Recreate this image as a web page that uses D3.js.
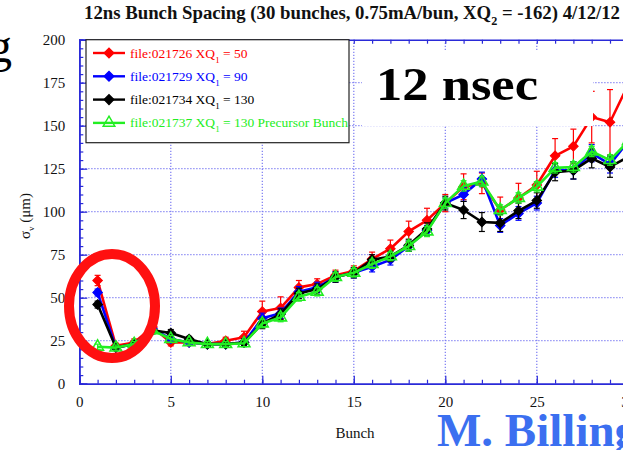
<!DOCTYPE html>
<html>
<head>
<meta charset="utf-8">
<script src="https://cdn.jsdelivr.net/npm/d3@7"></script>
<style>
  body { margin: 0; background: #fff; }
  svg { display: block; font-family: "Liberation Serif", "Times New Roman", serif; }
</style>
</head>
<body>
<svg id="chart" width="623" height="450"></svg>
<script>
// bunch numbers
var bunch = [1, 2, 3, 4, 5, 6, 7, 8, 9, 10, 11, 12, 13, 14, 15,
             16, 17, 18, 19, 20, 21, 22, 23, 24, 25, 26, 27, 28, 29, 30];

// sigma_v (um) per bunch
var red   = [60, 22, 24, 33, 24, 24, 23, 25, 27, 42, 44, 56, 58, 63, 65.5,
             72.5, 78.5, 88.5, 95, 105, 114.5, 116.5, 101, 108, 115.5, 132.5, 138, 155, 152, 174];
var blue  = [53, 21, 23, 32, 26, 24, 23, 23, 24, 38, 41, 53.5, 56, 62, 64.5,
             68, 72, 80, 89, 105, 110, 119, 92, 99, 105, 124, 124, 134, 127.5, 141];
var black = [46, 21, 23, 31, 29.5, 26, 23, 23, 24, 35, 40.5, 52.5, 55, 62, 64.5,
             72, 74, 80.5, 90, 105, 101, 94, 93.5, 100.5, 106.5, 123, 124, 131, 126, 132];
var green = [21.5, 21, 23, 31, 26, 24, 23, 23, 23.5, 35, 38.5, 50.5, 53.5, 62, 64.5,
             69.5, 74, 80, 88.5, 105, 115, 117.5, 101, 108, 114.5, 125.5, 126, 135, 130, 141];

// error bar half-lengths
var redErr   = [3, 1.5, 2, 2, 2, 1.5, 1.5, 2, 3.5, 6, 6.5, 4, 3, 3, 3,
                4, 5, 6, 7, 5, 7.5, 6, 7.5, 8.5, 8, 10, 10, 15, 19, 12];
var blueErr  = [2, 1.5, 1.5, 2, 2, 1.5, 1.5, 1.5, 2, 3, 3, 3, 3, 3, 3,
                3, 3, 3, 3, 3, 4, 4, 4, 4, 4, 4, 5, 5, 5, 5];
var blackErr = [2, 1.5, 1.5, 2, 2, 1.5, 1.5, 1.5, 2, 3, 3, 3, 3, 3, 3,
                3, 3, 3.5, 3.5, 4, 5, 5.5, 5, 4.5, 4.5, 5, 5, 5.5, 6, 5];
var greenErr = [1.5, 1.5, 1.5, 2, 2, 1.5, 1.5, 1.5, 2, 2.5, 2.5, 2.5, 2.5, 2.5, 2.5,
                2.5, 2.5, 3, 3, 3, 3, 3, 3, 3, 3, 3, 3, 3, 3, 3];

var legendNames = ["file:021726 XQ", "file:021729 XQ", "file:021734 XQ", "file:021737 XQ"];
var legendTails = [" = 50", " = 90", " = 130", " = 130 Precursor Bunch"];

var xTicks = [0, 5, 10, 15, 20, 25, 30];
var yTicks = [0, 25, 50, 75, 100, 125, 150, 175, 200];

var series = [
  { vals: red,   err: redErr,   color: "#ff0000", mark: "diamond" },
  { vals: blue,  err: blueErr,  color: "#0000ff", mark: "diamond" },
  { vals: black, err: blackErr, color: "#000000", mark: "diamond" },
  { vals: green, err: greenErr, color: "#22ee22", mark: "triangle" }
];

var svg = d3.select("#chart"),
    pLeft = 79.3, pRight = 628.3, pTop = 39.7, pBottom = 383.7;

var x = d3.scaleLinear().domain([0, 30]).range([pLeft, pRight]);
var y = d3.scaleLinear().domain([0, 200]).range([pBottom, pTop]);

var axisBlue = "#2a2ad8", gridBlue = "#7b7bf2";

// grid
svg.append("g").selectAll("line").data(xTicks.slice(1)).enter().append("line")
  .attr("x1", d => x(d)).attr("x2", d => x(d)).attr("y1", pTop).attr("y2", pBottom)
  .attr("stroke", gridBlue).attr("stroke-width", 1.2).attr("stroke-dasharray", "1.2,1.8");
svg.append("g").selectAll("line").data(yTicks.slice(1, -1)).enter().append("line")
  .attr("x1", pLeft).attr("x2", pRight).attr("y1", d => y(d)).attr("y2", d => y(d))
  .attr("stroke", gridBlue).attr("stroke-width", 1.2).attr("stroke-dasharray", "1.2,1.8");

// axes (ticks pointing inward)
var xb = svg.append("g").attr("transform", "translate(0," + pBottom + ")")
  .call(d3.axisBottom(x).tickValues(d3.range(0, 31)).tickSize(-4).tickFormat(""));
var xb2 = svg.append("g").attr("transform", "translate(0," + pBottom + ")")
  .call(d3.axisBottom(x).tickValues(xTicks).tickSize(-8).tickPadding(14).tickFormat(d3.format("d")));
var xt = svg.append("g").attr("transform", "translate(0," + pTop + ")")
  .call(d3.axisTop(x).tickValues(d3.range(0, 31)).tickSize(-4).tickFormat(""));
var yl = svg.append("g").attr("transform", "translate(" + pLeft + ",0)")
  .call(d3.axisLeft(y).tickValues(d3.range(0, 201, 5)).tickSize(-4).tickFormat(""));
var yl2 = svg.append("g").attr("transform", "translate(" + pLeft + ",0)")
  .call(d3.axisLeft(y).tickValues(yTicks).tickSize(-8).tickPadding(14).tickFormat(d3.format("d")));

[xb, xb2, xt, yl, yl2].forEach(function (g) {
  g.select(".domain").attr("stroke", axisBlue).attr("stroke-width", 1.6);
  g.selectAll(".tick line").attr("stroke", axisBlue).attr("stroke-width", 1.2);
  g.selectAll("text").attr("fill", "#111").attr("font-size", 15)
    .attr("font-family", "Liberation Serif, serif");
});
xb2.selectAll("text").attr("dy", "0.6em");

// data
var plot = svg.append("g");
var line = d3.line().x((d, i) => x(bunch[i])).y(d => y(d));
var diamond = d3.symbol(d3.symbolSquare, 46);
var triangle = d3.symbol(d3.symbolTriangle, 60);

series.forEach(function (s) {
  var g = plot.append("g");
  g.append("path").attr("d", line(s.vals)).attr("fill", "none")
    .attr("stroke", s.color).attr("stroke-width", 2.6).attr("stroke-linejoin", "round");
  var eb = g.selectAll(".eb").data(s.vals).enter().append("g");
  eb.append("line")
    .attr("x1", (d, i) => x(bunch[i])).attr("x2", (d, i) => x(bunch[i]))
    .attr("y1", (d, i) => y(d - s.err[i])).attr("y2", (d, i) => y(d + s.err[i]))
    .attr("stroke", s.color).attr("stroke-width", 1.2);
  [-1, 1].forEach(function (sg) {
    eb.append("line")
      .attr("x1", (d, i) => x(bunch[i]) - 3).attr("x2", (d, i) => x(bunch[i]) + 3)
      .attr("y1", (d, i) => y(d + sg * s.err[i])).attr("y2", (d, i) => y(d + sg * s.err[i]))
      .attr("stroke", s.color).attr("stroke-width", 1.2);
  });
  g.selectAll(".mk").data(s.vals).enter().append("path")
    .attr("transform", (d, i) => "translate(" + x(bunch[i]) + "," + y(d) + ")" +
      (s.mark === "diamond" ? " rotate(45)" : ""))
    .attr("d", s.mark === "diamond" ? diamond() : triangle())
    .attr("fill", s.mark === "diamond" ? s.color : "none")
    .attr("stroke", s.color).attr("stroke-width", s.mark === "diamond" ? 1 : 1.6);
});

// white box behind "12 nsec"
svg.append("rect").attr("x", 362).attr("y", 50).attr("width", 231).attr("height", 76).attr("fill", "#fff");
svg.append("text").attr("x", 376).attr("y", 100).attr("font-size", 46).attr("font-weight", "bold")
  .attr("textLength", 162).attr("lengthAdjust", "spacingAndGlyphs")
  .attr("font-family", "Liberation Serif, serif").attr("fill", "#000").text("12 nsec");

// legend
var leg = svg.append("g");
leg.append("rect").attr("x", 86).attr("y", pTop).attr("width", 263).attr("height", 103)
  .attr("fill", "#fff").attr("stroke", "#222").attr("stroke-width", 1.2);
series.forEach(function (s, i) {
  var ly = 53 + i * 23.3;
  leg.append("line").attr("x1", 93).attr("x2", 125).attr("y1", ly).attr("y2", ly)
    .attr("stroke", s.color).attr("stroke-width", 2.4);
  leg.append("path").attr("transform", "translate(109," + ly + ")" + (s.mark === "diamond" ? " rotate(45)" : ""))
    .attr("d", s.mark === "diamond" ? diamond() : triangle())
    .attr("fill", s.mark === "diamond" ? s.color : "none").attr("stroke", s.color).attr("stroke-width", 1.4);
  var t = leg.append("text").attr("x", 130).attr("y", ly + 4.5).attr("font-size", 13.5).attr("fill", s.color);
  t.append("tspan").text(legendNames[i]);
  t.append("tspan").attr("font-size", 9).attr("dy", 5).text("1");
  t.append("tspan").attr("dy", -5).text(legendTails[i]);
});

// title
var title = svg.append("text").attr("x", 84).attr("y", 19).attr("font-size", 18.5).attr("font-weight", "bold")
  .attr("textLength", 536).attr("lengthAdjust", "spacingAndGlyphs").attr("fill", "#111");
title.append("tspan").text("12ns Bunch Spacing (30 bunches, 0.75mA/bun, XQ");
title.append("tspan").attr("font-size", 12).attr("dy", 6).text("2");
title.append("tspan").attr("dy", -6).text(" = -162) 4/12/12");

// axis labels
svg.append("text").attr("x", 355).attr("y", 438).attr("text-anchor", "middle").attr("font-size", 15)
  .attr("fill", "#111").text("Bunch");
var yt = svg.append("text").attr("transform", "translate(30,216) rotate(-90)").attr("text-anchor", "middle")
  .attr("font-size", 15).attr("fill", "#111");
yt.append("tspan").text("σ");
yt.append("tspan").attr("font-size", 9).attr("dy", 4).text("v");
yt.append("tspan").attr("dy", -4).text(" (μm)");

// red circle annotation
svg.append("ellipse").attr("cx", 112).attr("cy", 306).attr("rx", 43).attr("ry", 52)
  .attr("fill", "none").attr("stroke", "#ff1010").attr("stroke-width", 10);

// slide overlay text
svg.append("text").attr("x", 437).attr("y", 446).attr("font-size", 47).attr("font-weight", "bold")
  .attr("fill", "#3b6ff0").text("M. Billing");
svg.append("text").attr("x", -12).attr("y", 62).attr("font-size", 48).attr("fill", "#000").text("g");
</script>
</body>
</html>
